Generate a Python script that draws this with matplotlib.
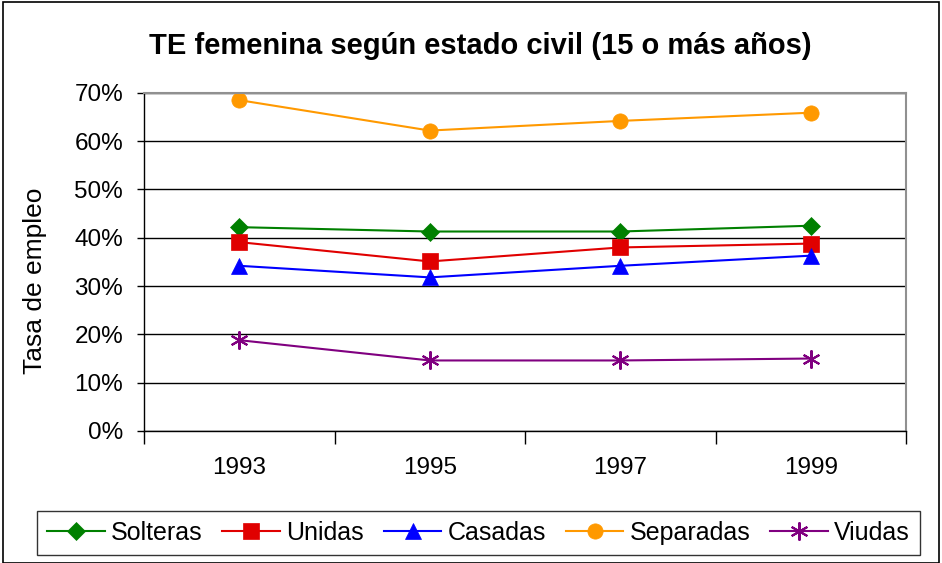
import matplotlib.pyplot as plt
import matplotlib.ticker as ticker
from matplotlib.patches import Rectangle

plt.rcParams['font.family'] = ['Liberation Sans', 'DejaVu Sans']

years = ['1993', '1995', '1997', '1999']
solteras = [42.2, 41.3, 41.3, 42.5]
unidas = [39.1, 35.1, 38.0, 38.8]
casadas = [34.2, 31.8, 34.2, 36.3]
separadas = [68.5, 62.2, 64.2, 65.9]
viudas = [18.8, 14.6, 14.6, 15.0]

series = [
    ('Solteras', solteras, '#008000', 'D', 9),
    ('Unidas', unidas, '#E00000', 's', 11),
    ('Casadas', casadas, '#0000FF', '^', 11),
    ('Separadas', separadas, '#FF9900', 'o', 11),
    ('Viudas', viudas, '#800080', (6, 2, 0), 13),
]

fig = plt.figure(figsize=(9.42, 5.63), dpi=100)
ax = fig.add_axes([0.1529, 0.2345, 0.8089, 0.6005])

x = range(len(years))
for name, vals, col, mk, ms in series:
    ax.plot(x, vals, color=col, marker=mk, markersize=ms, linewidth=1.5,
            markeredgewidth=1.5 if mk == (6, 2, 0) else 0.5,
            markeredgecolor=col, label=name)

ax.set_xlim(-0.5, 3.5)
ax.set_ylim(0, 70)
ax.yaxis.set_major_locator(ticker.MultipleLocator(10))
ax.yaxis.set_major_formatter(ticker.FuncFormatter(lambda v, p: f'{v:.0f}%'))
ax.grid(axis='y', color='black', linewidth=1)
ax.set_axisbelow(True)

ax.set_xticks([0, 1, 2, 3])
ax.set_xticklabels(years)
ax.set_xticks([-0.5, 0.5, 1.5, 2.5, 3.5], minor=True)
ax.tick_params(axis='x', which='major', length=0, pad=19, labelsize=17.5)
ax.tick_params(axis='x', which='minor', length=9, width=1, direction='out')
ax.tick_params(axis='y', length=5, width=1, direction='out', labelsize=17.5, pad=10)

for s in ['top', 'right']:
    ax.spines[s].set_color('#909090')
    ax.spines[s].set_linewidth(1.5)
for s in ['left', 'bottom']:
    ax.spines[s].set_color('black')
    ax.spines[s].set_linewidth(1)

fig.text(35 / 942, 1 - 281 / 563, 'Tasa de empleo', rotation=90,
         ha='center', va='center', fontsize=19)
fig.suptitle('TE femenina según estado civil (15 o más años)',
             fontsize=21, fontweight='bold', x=0.51, y=0.943)

leg = fig.legend(loc='center', bbox_to_anchor=(0.508, 0.054), ncol=5,
                 fontsize=18, frameon=True, fancybox=False, edgecolor='black',
                 handlelength=2.3, handletextpad=0.25, columnspacing=0.8,
                 borderpad=0.4, borderaxespad=0)
leg.get_frame().set_linewidth(1)

fig.patches.append(Rectangle((0.003, 0.0), 0.994, 0.996, transform=fig.transFigure,
                             fill=False, edgecolor='black', linewidth=1.2))

plt.savefig('out.png', dpi=100)
